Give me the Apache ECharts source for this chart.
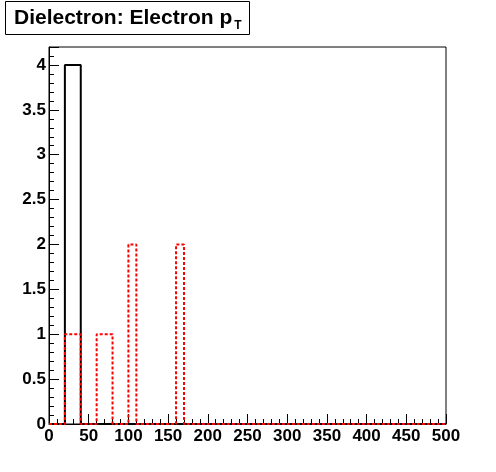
<!DOCTYPE html>
<html>
<head>
<meta charset="utf-8">
<script src="https://cdn.jsdelivr.net/npm/echarts@6/dist/echarts.min.js"></script>
<style>
html,body{margin:0;padding:0;background:#fff;}
#chart{width:496px;height:472px;}
</style>
</head>
<body>
<div id="chart"></div>
<script>
// Histogram: 50 bins of width 10 over 0..500
var xMin = 0, xMax = 500, binWidth = 10;
var blackCounts = [0,0,4,4,0,0,0,0,0,0, 0,0,0,0,0,0,0,0,0,0, 0,0,0,0,0,0,0,0,0,0, 0,0,0,0,0,0,0,0,0,0, 0,0,0,0,0,0,0,0,0,0];
var redCounts   = [0,0,1,1,0,0,1,1,0,0, 2,0,0,0,0,0,2,0,0,0, 0,0,0,0,0,0,0,0,0,0, 0,0,0,0,0,0,0,0,0,0, 0,0,0,0,0,0,0,0,0,0];
var titleMain = 'Dielectron: Electron p';
var titleSub = 'T';

function stepData(counts) {
  var d = [];
  for (var i = 0; i < counts.length; i++) d.push([xMin + i * binWidth, counts[i]]);
  d.push([xMin + counts.length * binWidth, counts[counts.length - 1]]);
  return d;
}

var font = '"Liberation Sans", Arial, Helvetica, sans-serif';
var chart = echarts.init(document.getElementById('chart'), null, {renderer: 'canvas'});
chart.setOption({
  backgroundColor: '#fff',
  animation: false,
  title: {
    text: '{a|' + titleMain + '}{b|' + titleSub + '}',
    left: 5, top: 3,
    padding: [4, 8, 3, 9],
    borderColor: '#000', borderWidth: 1, backgroundColor: '#fff',
    textStyle: {
      rich: {
        a: {fontFamily: font, fontSize: 21, fontWeight: 'bold', color: '#000', lineHeight: 23},
        b: {fontFamily: font, fontSize: 12, fontWeight: 'bold', color: '#000', padding: [15, 0, 0, 2], lineHeight: 12}
      }
    }
  },
  grid: {left: 49, right: 50, top: 47, bottom: 48, show: true, borderColor: '#000', borderWidth: 1, containLabel: false},
  xAxis: {
    type: 'value', min: 0, max: 500, interval: 50,
    axisLine: {show: true, lineStyle: {color: '#000', width: 1}},
    axisTick: {show: true, inside: true, length: 10, lineStyle: {color: '#000', width: 1}},
    minorTick: {show: true, splitNumber: 5, length: 5, lineStyle: {color: '#000', width: 1}},
    splitLine: {show: false},
    axisLabel: {fontFamily: font, fontSize: 17, fontWeight: 'bold', color: '#000', margin: 4}
  },
  yAxis: {
    type: 'value', min: 0, max: 4.2, interval: 0.5,
    axisLine: {show: true, lineStyle: {color: '#000', width: 1}},
    axisTick: {show: true, inside: true, length: 10, lineStyle: {color: '#000', width: 1}},
    minorTick: {show: true, splitNumber: 5, length: 5, lineStyle: {color: '#000', width: 1}},
    splitLine: {show: false},
    axisLabel: {fontFamily: font, fontSize: 17, fontWeight: 'bold', color: '#000', margin: 3, showMaxLabel: false}
  },
  series: [
    {type: 'line', step: 'end', data: stepData(blackCounts), symbol: 'none', clip: true,
     lineStyle: {color: '#000', width: 2}, z: 2},
    {type: 'line', step: 'end', data: stepData(redCounts), symbol: 'none', clip: true,
     lineStyle: {color: '#ff0000', width: 2, type: [3, 2]}, z: 3}
  ]
});
</script>
</body>
</html>
